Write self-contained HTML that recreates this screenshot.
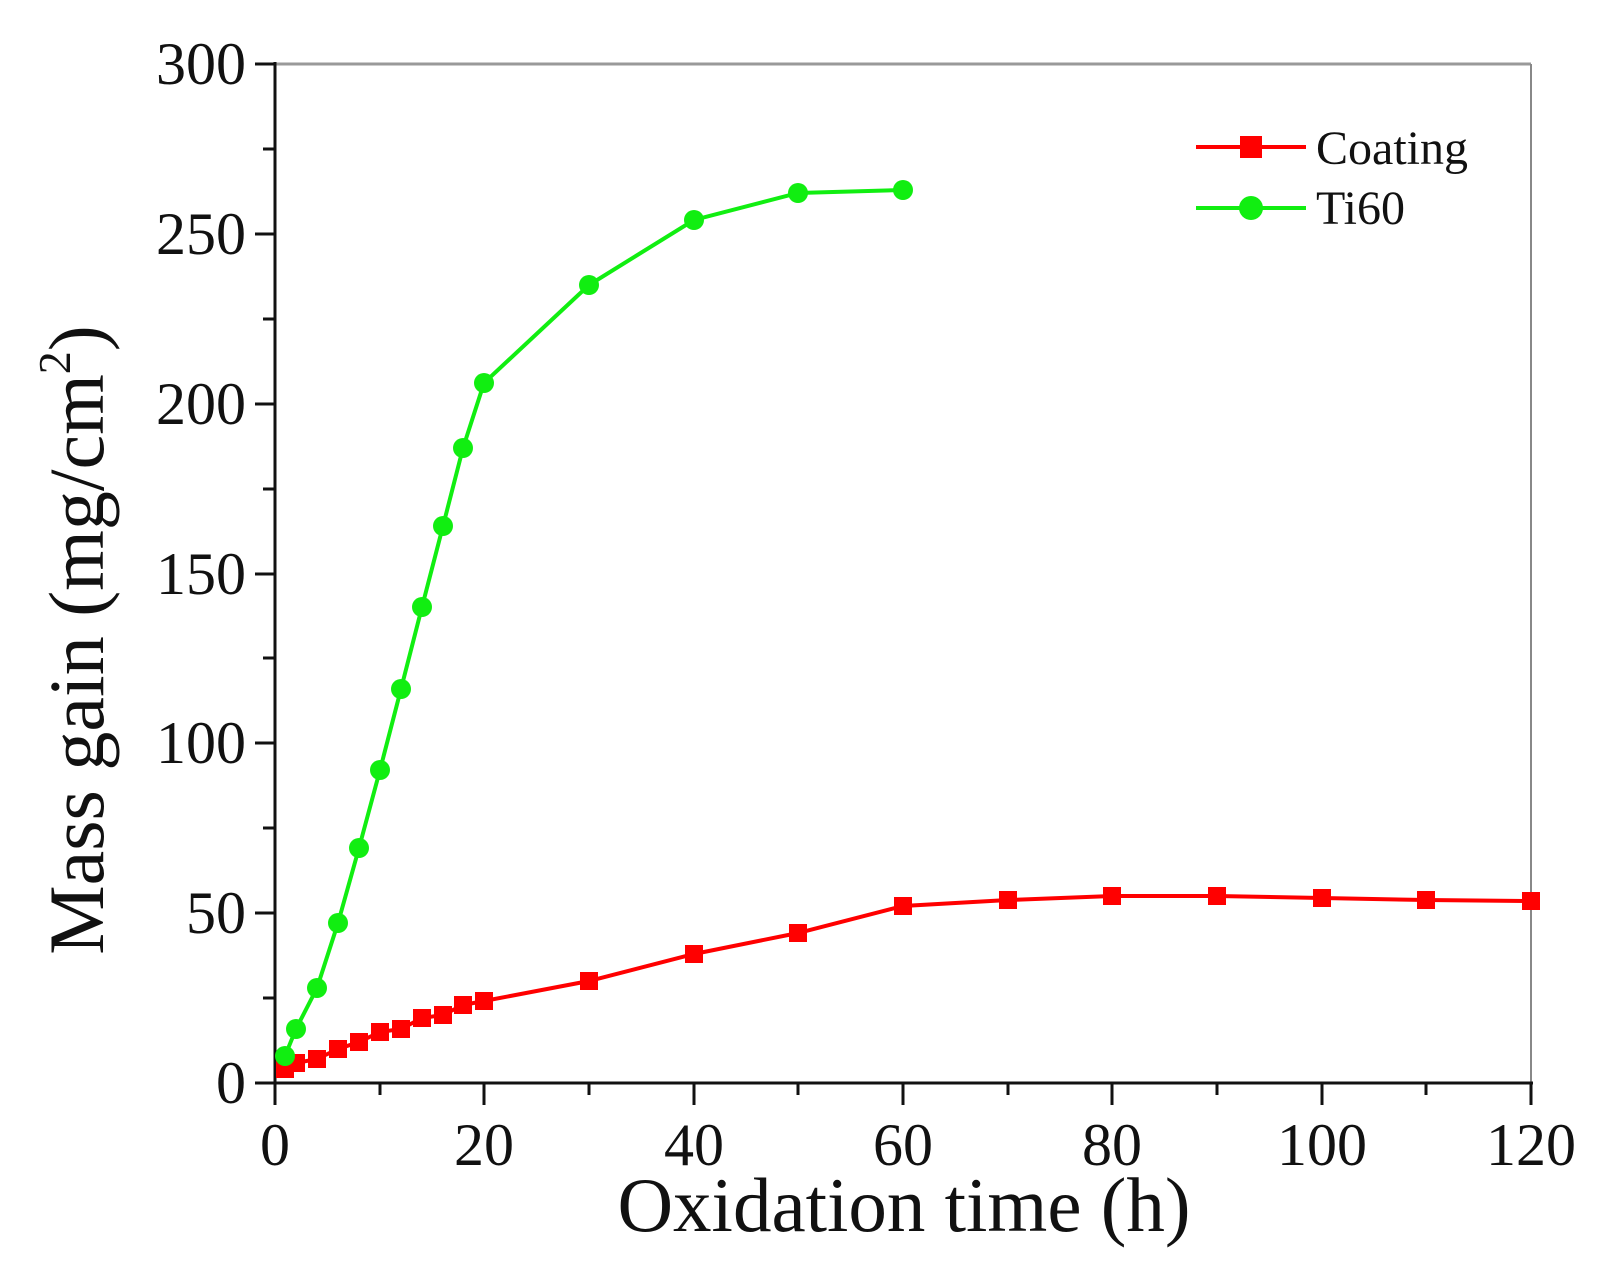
<!DOCTYPE html>
<html><head><meta charset="utf-8"><style>body{margin:0;background:#fff}svg{display:block}</style></head><body>
<svg width="1602" height="1272" xmlns="http://www.w3.org/2000/svg" font-family="Liberation Serif, serif">
<rect width="1602" height="1272" fill="#fff"/>
<line x1="275" y1="64" x2="1531" y2="64" stroke="#999" stroke-width="3"/>
<line x1="1531" y1="64" x2="1531" y2="1083" stroke="#888" stroke-width="2"/>
<g stroke="#111" stroke-width="3">
<line x1="275" y1="62" x2="275" y2="1085"/>
<line x1="273" y1="1083" x2="1533" y2="1083"/>
<path d="M255 64H275M255 234H275M255 404H275M255 574H275M255 743H275M255 913H275M255 1083H275"/>
<path d="M263 149H275M263 319H275M263 489H275M263 658H275M263 828H275M263 998H275"/>
<path d="M275 1083V1105M484 1083V1105M694 1083V1105M903 1083V1105M1112 1083V1105M1322 1083V1105M1531 1083V1105"/>
<path d="M380 1083V1095M589 1083V1095M798 1083V1095M1008 1083V1095M1217 1083V1095M1426 1083V1095"/>
</g>
<g font-size="60" text-anchor="end" fill="#111">
<text x="246" y="84">300</text><text x="246" y="254">250</text><text x="246" y="424">200</text><text x="246" y="594">150</text><text x="246" y="763">100</text><text x="246" y="933">50</text><text x="246" y="1103">0</text>
</g>
<g font-size="60" text-anchor="middle" fill="#111">
<text x="275" y="1165">0</text><text x="484" y="1165">20</text><text x="694" y="1165">40</text><text x="903" y="1165">60</text><text x="1112" y="1165">80</text><text x="1322" y="1165">100</text><text x="1531" y="1165">120</text>
</g>
<text x="904" y="1231" font-size="77" text-anchor="middle" fill="#111">Oxidation time (h)</text>
<text transform="translate(103,640) rotate(-90)" font-size="78" text-anchor="middle" fill="#111">Mass gain (mg/cm<tspan font-size="46" dy="-33">2</tspan><tspan dy="33">)</tspan></text>
<polyline fill="none" stroke="#f00" stroke-width="4" points="285,1069 296,1063 317,1059 338,1049 359,1042 380,1032 401,1029 422,1018 443,1015 463,1005 484,1001 589,981 694,954 798,933 903,906 1008,900 1112,896 1217,896 1322,898 1426,900 1531,901"/>
<g fill="#f00">
<rect x="276" y="1060" width="18" height="18"/><rect x="287" y="1054" width="18" height="18"/><rect x="308" y="1050" width="18" height="18"/><rect x="329" y="1040" width="18" height="18"/><rect x="350" y="1033" width="18" height="18"/><rect x="371" y="1023" width="18" height="18"/><rect x="392" y="1020" width="18" height="18"/><rect x="413" y="1009" width="18" height="18"/><rect x="434" y="1006" width="18" height="18"/><rect x="454" y="996" width="18" height="18"/><rect x="475" y="992" width="18" height="18"/><rect x="580" y="972" width="18" height="18"/><rect x="685" y="945" width="18" height="18"/><rect x="789" y="924" width="18" height="18"/><rect x="894" y="897" width="18" height="18"/><rect x="999" y="891" width="18" height="18"/><rect x="1103" y="887" width="18" height="18"/><rect x="1208" y="887" width="18" height="18"/><rect x="1313" y="889" width="18" height="18"/><rect x="1417" y="891" width="18" height="18"/><rect x="1522" y="892" width="18" height="18"/>
</g>
<polyline fill="none" stroke="#1e1" stroke-width="4" points="285,1056 296,1029 317,988 338,923 359,848 380,770 401,689 422,607 443,526 463,448 484,383 589,285 694,220 798,193 903,190"/>
<g fill="#1e1">
<circle cx="285" cy="1056" r="10"/><circle cx="296" cy="1029" r="10"/><circle cx="317" cy="988" r="10"/><circle cx="338" cy="923" r="10"/><circle cx="359" cy="848" r="10"/><circle cx="380" cy="770" r="10"/><circle cx="401" cy="689" r="10"/><circle cx="422" cy="607" r="10"/><circle cx="443" cy="526" r="10"/><circle cx="463" cy="448" r="10"/><circle cx="484" cy="383" r="10"/><circle cx="589" cy="285" r="10"/><circle cx="694" cy="220" r="10"/><circle cx="798" cy="193" r="10"/><circle cx="903" cy="190" r="10"/>
</g>
<line x1="1196" y1="147" x2="1306" y2="147" stroke="#f00" stroke-width="4"/>
<rect x="1240" y="136" width="22" height="22" fill="#f00"/>
<line x1="1196" y1="208" x2="1306" y2="208" stroke="#1e1" stroke-width="4"/>
<circle cx="1251" cy="208" r="12" fill="#1e1"/>
<g font-size="48" fill="#111"><text x="1316" y="164">Coating</text><text x="1316" y="224">Ti60</text></g>
</svg>
</body></html>
